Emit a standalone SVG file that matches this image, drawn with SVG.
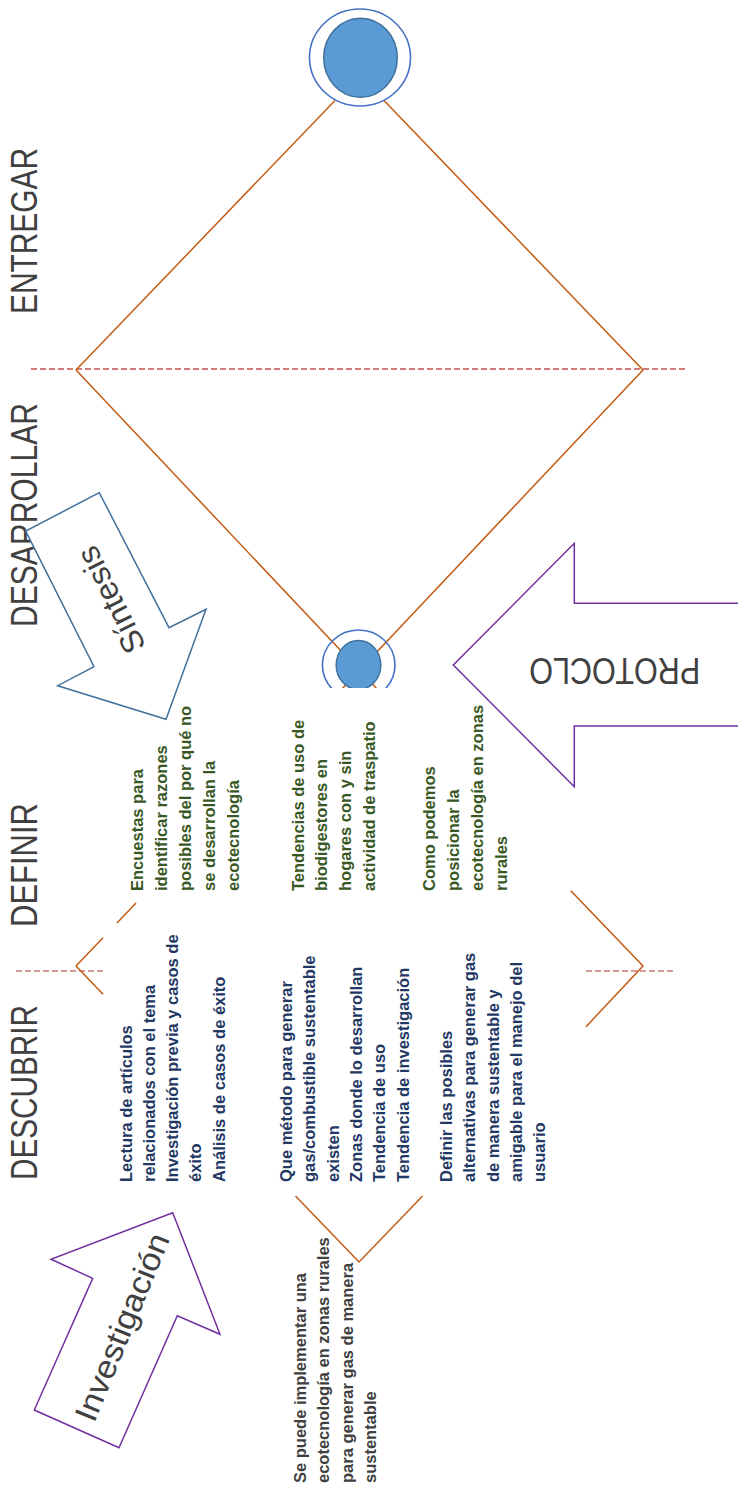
<svg xmlns="http://www.w3.org/2000/svg" width="738" height="1488" viewBox="0 0 738 1488">
  <defs>
    <style>
      .phase { font-family: "Liberation Sans", Arial, sans-serif; font-size: 37px; fill: #404040; }
      .tag { font-family: "Liberation Sans", Arial, sans-serif; fill: #404040; }
      .body { font-family: "Liberation Sans", Arial, sans-serif; font-weight: bold; font-size: 16.5px; }
      .blue { fill: #1F3864; }
      .green { fill: #385723; }
      .dark { fill: #404040; }
      .edge { stroke: #C55A11; stroke-width: 1.5; fill: none; }
      .divider { stroke: #C0504D; stroke-width: 1.4; stroke-dasharray: 6 3; fill: none; }
      .divider-light { stroke: #CC7A72; stroke-width: 1.4; stroke-dasharray: 6 3; fill: none; }
      .ring { stroke: #4472C4; stroke-width: 1.6; }
      .core { fill: #5B9BD5; stroke: #41719C; stroke-width: 1.5; }
      .arrow-blue { fill: #FFFFFF; stroke: #41719C; stroke-width: 1.5; }
      .arrow-purple { fill: #FFFFFF; stroke: #7030A0; stroke-width: 1.5; }
    </style>
    <clipPath id="cut">
      <rect x="0" y="0" width="738" height="688"/>
    </clipPath>
  </defs>

  <!-- phase dividers -->
  <g id="dividers">
    <line class="divider" x1="31" y1="369" x2="688" y2="369"/>
    <line class="divider-light" x1="16" y1="971" x2="103" y2="971"/>
    <line class="divider-light" x1="586" y1="971" x2="673" y2="971"/>
  </g>

  <!-- phase labels -->
  <g id="phases">
    <text class="phase" transform="translate(37,314) rotate(-90)" textLength="166" lengthAdjust="spacingAndGlyphs">ENTREGAR</text>
    <text class="phase" transform="translate(37,627) rotate(-90)" textLength="224" lengthAdjust="spacingAndGlyphs">DESARROLLAR</text>
    <text class="phase" transform="translate(37,927) rotate(-90)" textLength="124" lengthAdjust="spacingAndGlyphs">DEFINIR</text>
    <text class="phase" transform="translate(37,1180) rotate(-90)" textLength="175" lengthAdjust="spacingAndGlyphs">DESCUBRIR</text>
  </g>

  <!-- double diamond connectors -->
  <g id="connectors">
    <line class="edge" x1="76" y1="370" x2="335" y2="100.5"/>
    <line class="edge" x1="643" y1="370" x2="384" y2="100.5"/>
    <g clip-path="url(#cut)">
      <line class="edge" x1="76" y1="370" x2="378" y2="690"/>
      <line class="edge" x1="643" y1="370" x2="341" y2="690"/>
    </g>
    <line class="edge" x1="76" y1="966" x2="103" y2="937.7"/>
    <line class="edge" x1="117" y1="922.9" x2="136" y2="903"/>
    <line class="edge" x1="76" y1="966" x2="103" y2="994.2"/>
    <polyline class="edge" points="295.5,1196 359,1262 422.6,1196"/>
    <polyline class="edge" points="570.8,890.7 643,966 586,1026.7"/>
  </g>

  <!-- end point -->
  <g id="node-end">
    <ellipse class="ring" cx="360" cy="57.5" rx="50.5" ry="48.5" fill="#FFFFFF"/>
    <ellipse class="core" cx="360.5" cy="57.8" rx="36.8" ry="39.5"/>
  </g>

  <!-- midpoint between the two diamonds -->
  <g id="node-mid" clip-path="url(#cut)">
    <ellipse class="ring" cx="358.7" cy="665" rx="36.3" ry="35" fill="none"/>
    <ellipse class="core" cx="358.5" cy="665" rx="22.3" ry="24.5"/>
  </g>

  <!-- process arrows -->
  <g id="arrow-sintesis">
    <polygon class="arrow-blue" points="99.3,492.7 25.7,531 94,666.7 57.7,685.7 166,719.3 206,609.3 169,627.7"/>
    <text class="tag" font-size="32" text-anchor="middle" dominant-baseline="central" transform="translate(111,600) rotate(-116.6)" textLength="115" lengthAdjust="spacingAndGlyphs">Síntesis</text>
  </g>

  <g id="arrow-protocolo">
    <polygon class="arrow-purple" points="745,603.3 574.3,603.3 574.3,543.3 453.3,665 574.3,786.7 574.3,726 745,726"/>
    <text class="tag" font-size="36" text-anchor="middle" transform="translate(614.7,658.3) rotate(180)" textLength="171" lengthAdjust="spacingAndGlyphs">PROTOCLO</text>
  </g>

  <g id="arrow-investigacion">
    <polygon class="arrow-purple" points="172.7,1212.7 220,1334.3 177.3,1315.7 119,1447.7 34.3,1410 92.7,1278.3 51,1259.3"/>
    <text class="tag" font-size="32" text-anchor="middle" dominant-baseline="central" transform="translate(122,1327) rotate(-67.7)" textLength="200" lengthAdjust="spacingAndGlyphs">Investigación</text>
  </g>

  <!-- DESCUBRIR notes -->
  <g id="note-lectura">
    <text class="body blue" transform="translate(0,1182) rotate(-90)">
      <tspan x="0" y="131.5">Lectura de artículos</tspan>
      <tspan x="0" y="154.8">relacionados con el tema</tspan>
      <tspan x="0" y="178.1">Investigación previa y casos de</tspan>
      <tspan x="0" y="201.4">éxito</tspan>
      <tspan x="0" y="224.7">Análisis de casos de éxito</tspan>
    </text>
  </g>

  <g id="note-metodo">
    <text class="body blue" transform="translate(0,1182) rotate(-90)">
      <tspan x="0" y="292">Que método para generar</tspan>
      <tspan x="0" y="315.3">gas/combustible sustentable</tspan>
      <tspan x="0" y="338.6">existen</tspan>
      <tspan x="0" y="361.9">Zonas donde lo desarrollan</tspan>
      <tspan x="0" y="385.2">Tendencia de uso</tspan>
      <tspan x="0" y="408.5">Tendencia de investigación</tspan>
    </text>
  </g>

  <g id="note-alternativas">
    <text class="body blue" transform="translate(0,1182) rotate(-90)">
      <tspan x="0" y="452">Definir las posibles</tspan>
      <tspan x="0" y="475.3">alternativas para generar gas</tspan>
      <tspan x="0" y="498.6">de manera sustentable y</tspan>
      <tspan x="0" y="521.9">amigable para el manejo del</tspan>
      <tspan x="0" y="545.2">usuario</tspan>
    </text>
  </g>

  <!-- DEFINIR notes -->
  <g id="note-encuestas">
    <text class="body green" transform="translate(0,891) rotate(-90)">
      <tspan x="0" y="143.3">Encuestas para</tspan>
      <tspan x="0" y="167.1">identificar razones</tspan>
      <tspan x="0" y="190.9">posibles del por qué no</tspan>
      <tspan x="0" y="214.7">se desarrollan la</tspan>
      <tspan x="0" y="238.5">ecotecnología</tspan>
    </text>
  </g>

  <g id="note-tendencias">
    <text class="body green" transform="translate(0,891) rotate(-90)">
      <tspan x="0" y="303.5">Tendencias de uso de</tspan>
      <tspan x="0" y="327.3">biodigestores en</tspan>
      <tspan x="0" y="351.1">hogares con y sin</tspan>
      <tspan x="0" y="374.9">actividad de traspatio</tspan>
    </text>
  </g>

  <g id="note-posicionar">
    <text class="body green" transform="translate(0,891) rotate(-90)">
      <tspan x="0" y="435">Como podemos</tspan>
      <tspan x="0" y="459">posicionar la</tspan>
      <tspan x="0" y="483">ecotecnología en zonas</tspan>
      <tspan x="0" y="507">rurales</tspan>
    </text>
  </g>

  <!-- starting question -->
  <g id="note-pregunta">
    <text class="body dark" transform="translate(0,1483) rotate(-90)">
      <tspan x="0" y="306">Se puede implementar una</tspan>
      <tspan x="0" y="329.3">ecotecnología en zonas rurales</tspan>
      <tspan x="0" y="352.6">para generar gas de manera</tspan>
      <tspan x="0" y="375.9">sustentable</tspan>
    </text>
  </g>
</svg>
